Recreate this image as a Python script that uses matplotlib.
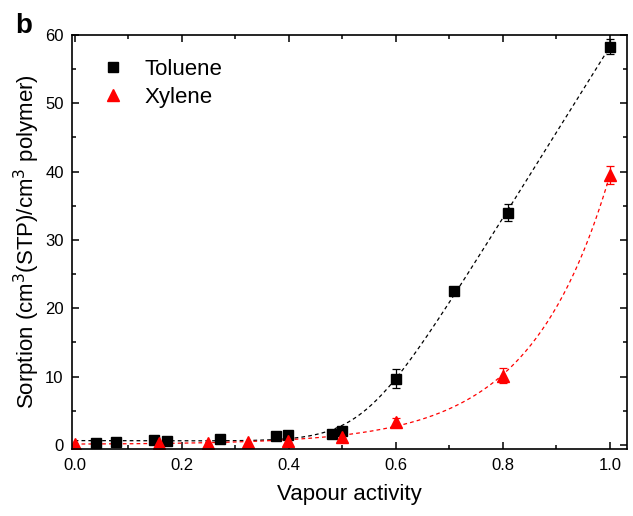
import matplotlib
matplotlib.use('Agg')
import matplotlib.pyplot as plt
import numpy as np
from matplotlib.ticker import MultipleLocator, FormatStrFormatter

plt.rcParams['font.family'] = ['Liberation Sans', 'DejaVu Sans']

# sorption data
toluene_a = np.array([0.04, 0.077, 0.149, 0.173, 0.272, 0.377, 0.398, 0.48, 0.499, 0.60, 0.708, 0.81, 1.0])
toluene_s = np.array([0.35, 0.5, 0.7, 0.6, 0.9, 1.3, 1.5, 1.6, 2.0, 9.7, 22.6, 34.0, 58.3])
toluene_err = np.array([0, 0, 0, 0, 0, 0, 0, 0, 0, 1.4, 0, 1.2, 1.1])

xylene_a = np.array([0.0, 0.157, 0.249, 0.323, 0.398, 0.50, 0.60, 0.80, 1.0])
xylene_s = np.array([0.1, 0.25, 0.3, 0.5, 0.6, 1.2, 3.3, 10.1, 39.5])
xylene_err = np.array([0, 0, 0, 0, 0, 0.3, 0.6, 1.1, 1.3])


def ramp_fit(x, y):
    # linear baseline + smooth ramp (softplus), x0 and w by grid search
    best = None
    for x0 in np.linspace(0.3, 0.9, 121):
        for w in np.linspace(0.05, 0.2, 31):
            basis = np.column_stack([np.ones_like(x), x, w * np.logaddexp(0, (x - x0) / w)])
            coef = np.linalg.lstsq(basis, y, rcond=None)[0]
            err = np.sum((basis @ coef - y) ** 2)
            if best is None or err < best[0]:
                best = (err, x0, w, coef)
    _, x0, w, c = best
    return lambda t: c[0] + c[1] * t + c[2] * w * np.logaddexp(0, (t - x0) / w)


def exp_fit(x, y):
    best = None
    for k in np.linspace(1, 12, 441):
        basis = np.column_stack([np.ones_like(x), np.exp(k * x)])
        coef = np.linalg.lstsq(basis, y, rcond=None)[0]
        err = np.sum((basis @ coef - y) ** 2)
        if best is None or err < best[0]:
            best = (err, k, coef)
    _, k, c = best
    return lambda t: c[0] + c[1] * np.exp(k * t)


fig = plt.figure(figsize=(6.33, 5.16), dpi=100)
ax = fig.add_axes([0.1137, 0.1298, 0.8768, 0.8024])

t = np.linspace(0, 1, 300)
ax.plot(t, ramp_fit(toluene_a, toluene_s)(t), color='black', lw=0.9, ls=(0, (3, 2.5)))
ax.plot(t, exp_fit(xylene_a, xylene_s)(t), color='red', lw=0.9, ls=(0, (3, 2.5)))

m = toluene_err > 0
ax.errorbar(toluene_a[m], toluene_s[m], yerr=toluene_err[m], fmt='none',
            ecolor='black', elinewidth=0.9, capsize=3, capthick=0.9)
m = xylene_err > 0
ax.errorbar(xylene_a[m], xylene_s[m], yerr=xylene_err[m], fmt='none',
            ecolor='red', elinewidth=0.9, capsize=3, capthick=0.9)

ax.plot(toluene_a, toluene_s, 's', color='black', ms=6.5, label='Toluene')
ax.plot(xylene_a, xylene_s, '^', color='red', ms=8, label='Xylene')

ax.set_xlim(-0.005, 1.032)
ax.set_ylim(-0.6, 60)
ax.xaxis.set_major_locator(MultipleLocator(0.2))
ax.xaxis.set_minor_locator(MultipleLocator(0.1))
ax.xaxis.set_major_formatter(FormatStrFormatter('%.1f'))
ax.yaxis.set_major_locator(MultipleLocator(10))
ax.yaxis.set_minor_locator(MultipleLocator(5))
ax.tick_params(which='both', direction='in', top=True, right=True, width=1.1, labelsize=12)
ax.tick_params(which='major', length=5)
ax.tick_params(which='minor', length=3)
ax.tick_params(axis='x', pad=6.5)
ax.tick_params(axis='y', pad=6)
for s in ax.spines.values():
    s.set_linewidth(1.2)

ax.set_xlabel('Vapour activity', fontsize=16, labelpad=8)
ax.set_ylabel(r'Sorption (cm$^3$(STP)/cm$^3$ polymer)', fontsize=16, labelpad=2)

ax.legend(loc='upper left', bbox_to_anchor=(0.055, 0.942), frameon=False, fontsize=16,
          handlelength=0.95, handletextpad=0.95, labelspacing=0.3, borderaxespad=0, borderpad=0)

fig.text(0.038, 0.95, 'b', fontsize=20, fontweight='bold', ha='center', va='center')

fig.savefig('out.png', dpi=100)
